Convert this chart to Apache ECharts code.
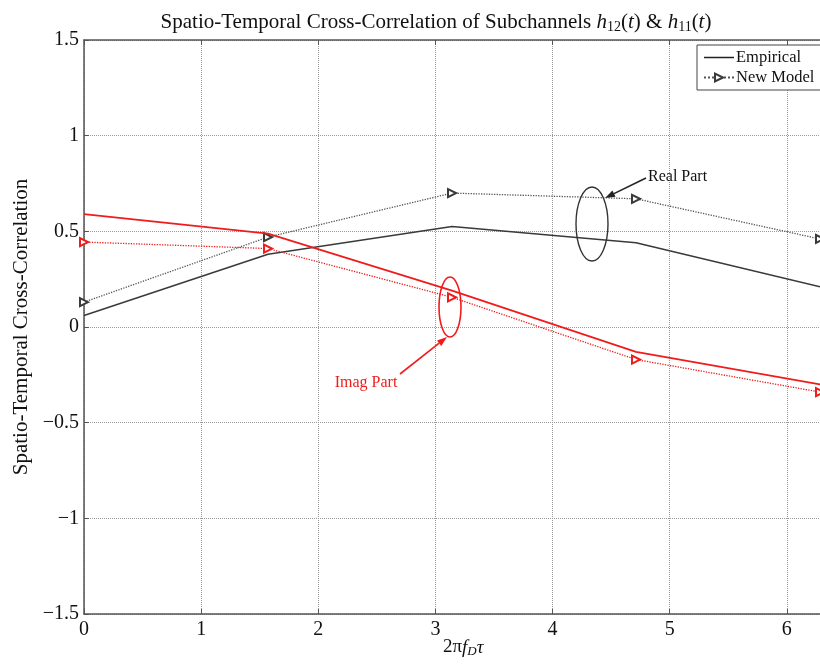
<!DOCTYPE html>
<html>
<head>
<meta charset="utf-8">
<script src="https://cdn.jsdelivr.net/npm/echarts@6/dist/echarts.min.js"></script>
<style>
  html, body { margin: 0; padding: 0; background: #fff; }
  #main { width: 820px; height: 665px; }
</style>
</head>
<body>
<div id="main"></div>
<script>
// x positions: 0, pi/2, pi, 3pi/2, 2pi
var xValues = [0, Math.PI / 2, Math.PI, 3 * Math.PI / 2, 2 * Math.PI];
var empiricalReal = [0.06, 0.38, 0.525, 0.44, 0.21];
var modelReal = [0.13, 0.47, 0.70, 0.67, 0.46];
var empiricalImag = [0.59, 0.488, 0.19, -0.13, -0.30];
var modelImag = [0.444, 0.41, 0.155, -0.17, -0.34];
var xTicks = [0, 1, 2, 3, 4, 5, 6];
var yTicks = [-1.5, -1, -0.5, 0, 0.5, 1, 1.5];

var serif = '"Liberation Serif", "DejaVu Serif", serif';
var grayCol = '#3a3a3a';
var redCol = '#f01c1c';

function pairs(ys) {
  return xValues.map(function (x, i) { return [x, ys[i]]; });
}
function fmt(v) {
  return String(v).replace('-', '\u2212');
}

// arrow helper for annotations (pixel space)
function arrow(x1, y1, x2, y2, color) {
  var ang = Math.atan2(y2 - y1, x2 - x1);
  var L = 10, W = 3.5;
  var bx = x2 - L * Math.cos(ang), by = y2 - L * Math.sin(ang);
  var px = -Math.sin(ang) * W, py = Math.cos(ang) * W;
  return [
    { type: 'line', shape: { x1: x1, y1: y1, x2: bx, y2: by }, style: { stroke: color, lineWidth: 1.6 }, z: 100 },
    { type: 'polygon', shape: { points: [[x2, y2], [bx + px, by + py], [bx - px, by - py]] }, style: { fill: color }, z: 100 }
  ];
}

var myChart = echarts.init(document.getElementById('main'));

var lineBase = { type: 'line', smooth: false, clip: true, animation: false };

// plain solid line icon for the "Empirical" legend entry
var solidLineIcon = 'path://M0,0 L0.01,0 M0,8.4 L60,8.4 L60,11.6 L0,11.6 Z M60,20 L60.01,20';

var option = {
  backgroundColor: '#fff',
  animation: false,
  title: {
    text: 'Spatio-Temporal Cross-Correlation of Subchannels {i|h}{s|12}({i|t}) & {i|h}{s|11}({i|t})',
    left: 431,
    textAlign: 'center',
    top: 5,
    textStyle: {
      fontFamily: serif, fontSize: 21, fontWeight: 'normal', color: '#111', lineHeight: 24,
      rich: {
        i: { fontFamily: serif, fontSize: 21, fontStyle: 'italic', color: '#111', lineHeight: 24 },
        s: { fontFamily: serif, fontSize: 14, color: '#111', verticalAlign: 'bottom', lineHeight: 12 }
      }
    }
  },
  legend: {
    left: 697,
    top: 45,
    orient: 'vertical',
    data: [{ name: 'Empirical', icon: solidLineIcon, itemStyle: { color: '#222', opacity: 1 } }, { name: 'New Model' }],
    itemWidth: 30,
    itemHeight: 10,
    itemGap: 3,
    padding: [4, 20, 4, 6],
    backgroundColor: '#fff',
    borderColor: '#444',
    borderWidth: 1,
    borderRadius: 0,
    textStyle: { fontFamily: serif, fontSize: 16.5, color: '#111', padding: [0, 0, 0, -3] }
  },
  grid: { left: 84, right: -6, top: 40, bottom: 51, containLabel: false },
  xAxis: [
    {
      type: 'value', min: 0, max: 2 * Math.PI, interval: 1,
      axisLine: { show: true, onZero: false, lineStyle: { color: '#555', width: 1.5 } },
      axisTick: { show: true, inside: true, length: 5, lineStyle: { color: '#555' } },
      axisLabel: {
        showMaxLabel: false, margin: 6, fontFamily: serif, fontSize: 20, color: '#111',
        formatter: function (v) { return xTicks.indexOf(v) >= 0 ? fmt(v) : ''; }
      },
      splitLine: { show: true, lineStyle: { color: '#9a9a9a', type: 'dotted', width: 1 } }
    },
    {
      type: 'value', position: 'top', min: 0, max: 2 * Math.PI, interval: 1,
      axisLine: { show: true, onZero: false, lineStyle: { color: '#555', width: 1.5 } },
      axisTick: { show: true, inside: true, length: 5, lineStyle: { color: '#555' } },
      axisLabel: { show: false },
      splitLine: { show: false }
    }
  ],
  yAxis: {
    type: 'value', min: -1.5, max: 1.5, interval: 0.5,
    name: 'Spatio-Temporal Cross-Correlation',
    nameLocation: 'middle',
    nameGap: 52,
    nameRotate: 90,
    nameTextStyle: { fontFamily: serif, fontSize: 21, color: '#111' },
    axisLine: { show: true, onZero: false, lineStyle: { color: '#555', width: 1.5 } },
    axisTick: { show: true, inside: true, length: 5, lineStyle: { color: '#555' } },
    axisLabel: {
      margin: 5, fontFamily: serif, fontSize: 20, color: '#111',
      formatter: function (v) { return yTicks.indexOf(v) >= 0 ? fmt(v) : ''; }
    },
    splitLine: { show: true, lineStyle: { color: '#9a9a9a', type: 'dotted', width: 1 } }
  },
  series: [
    Object.assign({}, lineBase, {
      name: 'Empirical', data: pairs(empiricalReal), symbol: 'none',
      lineStyle: { color: grayCol, width: 1.6 }, itemStyle: { color: grayCol }, z: 3
    }),
    Object.assign({}, lineBase, {
      name: 'New Model', data: pairs(modelReal), symbol: 'emptyTriangle', symbolSize: 8, symbolRotate: -90,
      lineStyle: { color: '#555', width: 1.3, type: 'dotted' }, itemStyle: { color: grayCol, borderWidth: 1.3 }, z: 3
    }),
    Object.assign({}, lineBase, {
      name: 'Empirical', data: pairs(empiricalImag), symbol: 'none',
      lineStyle: { color: redCol, width: 1.8 }, itemStyle: { color: redCol }, z: 4
    }),
    Object.assign({}, lineBase, {
      name: 'New Model', data: pairs(modelImag), symbol: 'emptyTriangle', symbolSize: 8, symbolRotate: -90,
      lineStyle: { color: redCol, width: 1.3, type: 'dotted' }, itemStyle: { color: redCol, borderWidth: 1.3 }, z: 4
    })
  ],
  graphic: [
    {
      type: 'text', left: 443, top: 638,
      style: {
        text: '2\u03c0{i|f}{s|D}{i|\u03c4}', textAlign: 'center',
        font: '19px ' + serif, fill: '#111',
        rich: {
          i: { fontFamily: serif, fontSize: 19, fontStyle: 'italic', fill: '#111', lineHeight: 21 },
          s: { fontFamily: serif, fontSize: 13, fontStyle: 'italic', fill: '#111', verticalAlign: 'bottom', lineHeight: 10 }
        }
      }
    },
    { type: 'ellipse', shape: { cx: 592, cy: 224, rx: 16, ry: 37 }, style: { fill: null, stroke: '#333', lineWidth: 1.4 }, z: 100 },
    { type: 'ellipse', shape: { cx: 450, cy: 307, rx: 11, ry: 30 }, style: { fill: null, stroke: redCol, lineWidth: 1.6 }, z: 100 },
    { type: 'text', x: 648, y: 177, style: { text: 'Real Part', font: '16px ' + serif, fill: '#111', textVerticalAlign: 'middle' }, z: 100 },
    { type: 'text', x: 366, y: 383, style: { text: 'Imag Part', font: '16px ' + serif, fill: redCol, textAlign: 'center', textVerticalAlign: 'middle' }, z: 100 }
  ].concat(arrow(646, 178, 605, 198, '#222')).concat(arrow(400, 374, 447, 337, redCol))
};

myChart.setOption(option);
window.addEventListener('resize', function () { myChart.resize(); });
</script>
</body>
</html>
